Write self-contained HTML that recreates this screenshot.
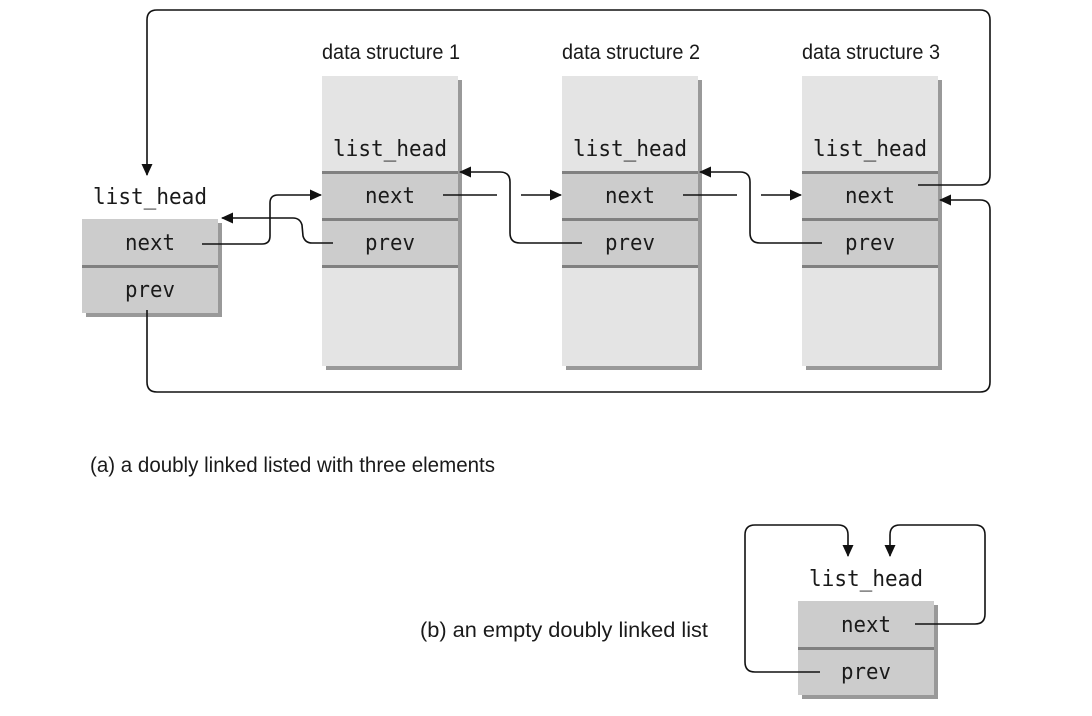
<!DOCTYPE html>
<html><head><meta charset="utf-8"><style>
html,body{margin:0;padding:0;background:#fff;}
svg{display:block;}
.m{font-family:"DejaVu Sans Mono","Liberation Mono",monospace;font-size:22px;fill:#1a1a1a;text-anchor:middle;}
.c{font-family:"Liberation Sans Narrow","Liberation Sans",sans-serif;font-size:21px;fill:#1a1a1a;}
.l{fill:none;stroke:#111;stroke-width:1.6;}
</style></head><body>
<svg width="1092" height="716" viewBox="0 0 1092 716" xmlns="http://www.w3.org/2000/svg">
<defs>
<marker id="a" markerWidth="12" markerHeight="12" refX="11" refY="6" orient="auto" markerUnits="userSpaceOnUse">
<path d="M0,0.5 L12,6 L0,11.5 z" fill="#111"/></marker>
<g id="ds">
<rect x="4" y="4" width="136" height="290" fill="#999"/>
<rect x="0" y="0" width="136" height="290" fill="#e4e4e4"/>
<rect x="0" y="96" width="136" height="94" fill="#cccccc"/>
<rect x="0" y="95" width="136" height="3" fill="#808080"/>
<rect x="0" y="142" width="136" height="3" fill="#808080"/>
<rect x="0" y="189" width="136" height="3" fill="#808080"/>
<text class="m" x="68" y="80" textLength="114" lengthAdjust="spacingAndGlyphs">list_head</text>
<text class="m" x="68" y="127" textLength="50" lengthAdjust="spacingAndGlyphs">next</text>
<text class="m" x="68" y="174" textLength="50" lengthAdjust="spacingAndGlyphs">prev</text>
</g>
<g id="lh">
<rect x="4" y="4" width="136" height="94" fill="#999"/>
<rect x="0" y="0" width="136" height="94" fill="#cccccc"/>
<rect x="0" y="46" width="136" height="3" fill="#808080"/>
<text class="m" x="68" y="31" textLength="50" lengthAdjust="spacingAndGlyphs">next</text>
<text class="m" x="68" y="78" textLength="50" lengthAdjust="spacingAndGlyphs">prev</text>
</g>
</defs>

<text class="c" x="391" y="59" text-anchor="middle" textLength="138" lengthAdjust="spacingAndGlyphs">data structure 1</text>
<text class="c" x="631" y="59" text-anchor="middle" textLength="138" lengthAdjust="spacingAndGlyphs">data structure 2</text>
<text class="c" x="871" y="59" text-anchor="middle" textLength="138" lengthAdjust="spacingAndGlyphs">data structure 3</text>

<use href="#ds" x="322" y="76"/>
<use href="#ds" x="562" y="76"/>
<use href="#ds" x="802" y="76"/>

<text class="m" x="150" y="204" textLength="114" lengthAdjust="spacingAndGlyphs">list_head</text>
<use href="#lh" x="82" y="219"/>

<path class="l" d="M918,185 H980 Q990,185 990,175 V20 Q990,10 980,10 H157 Q147,10 147,20 V175" marker-end="url(#a)"/>
<path class="l" d="M147,310 V382 Q147,392 157,392 H980 Q990,392 990,382 V210 Q990,200 980,200 H940" marker-end="url(#a)"/>

<path class="l" d="M202,244 H262 Q270,244 270,236 V203 Q270,195 278,195 H321" marker-end="url(#a)"/>
<path class="l" d="M333,243 H312 Q305,243 303,236 L302,225 Q300,218 293,218 H222" marker-end="url(#a)"/>

<path class="l" d="M443,195 H497"/>
<path class="l" d="M521,195 H561" marker-end="url(#a)"/>
<path class="l" d="M582,243 H520 Q510,243 510,233 V182 Q510,172 500,172 H460" marker-end="url(#a)"/>

<path class="l" d="M683,195 H737"/>
<path class="l" d="M761,195 H801" marker-end="url(#a)"/>
<path class="l" d="M822,243 H760 Q750,243 750,233 V182 Q750,172 740,172 H700" marker-end="url(#a)"/>

<text class="c" x="90" y="472" textLength="405" lengthAdjust="spacingAndGlyphs">(a)  a doubly linked listed with three elements</text>
<text class="c" x="420" y="637" textLength="288" lengthAdjust="spacingAndGlyphs">(b)  an empty doubly linked list</text>

<text class="m" x="866" y="586" textLength="114" lengthAdjust="spacingAndGlyphs">list_head</text>
<use href="#lh" x="798" y="601"/>
<path class="l" d="M820,672 H755 Q745,672 745,662 V535 Q745,525 755,525 H838 Q848,525 848,535 V556" marker-end="url(#a)"/>
<path class="l" d="M915,624 H975 Q985,624 985,614 V535 Q985,525 975,525 H900 Q890,525 890,535 V556" marker-end="url(#a)"/>
</svg>
</body></html>
